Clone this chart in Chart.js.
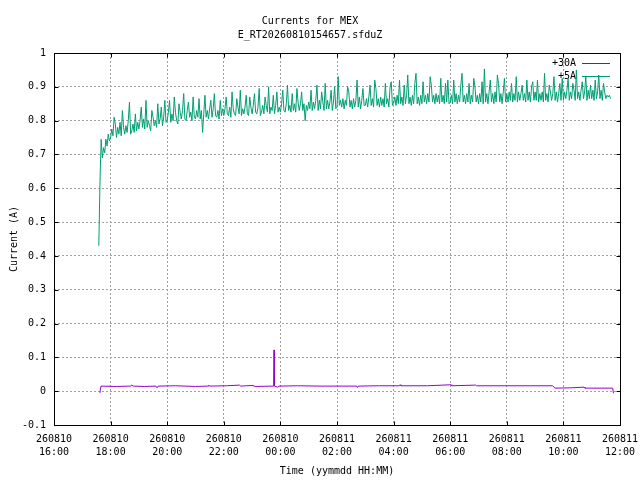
<!DOCTYPE html>
<html lang="en">
<head>
<meta charset="UTF-8">
<title>Currents for MEX</title>
<script src="https://cdn.jsdelivr.net/npm/chart.js"></script>
<style>
  html, body { margin: 0; padding: 0; background: #fff; }
  canvas { display: block; }
</style>
</head>
<body>
<canvas id="currents" width="640" height="480"></canvas>
<script>
// x axis runs in hours counted from 260810 00:00
const xTickDates = ['260810', '260810', '260810', '260810', '260810', '260811',
                    '260811', '260811', '260811', '260811', '260811'];
const xTickTimes = ['16:00', '18:00', '20:00', '22:00', '00:00', '02:00',
                    '04:00', '06:00', '08:00', '10:00', '12:00'];
const yTickLabels = ['-0.1', '0', '0.1', '0.2', '0.3', '0.4', '0.5', '0.6', '0.7', '0.8', '0.9', '1'];

// +5A: one sample every 2.5 minutes starting 17:35, one row per hour
const fiveAStart = 17 + 35 / 60;
const fiveAStepMin = 2.5;
const fiveAValues = [
  0.43, 0.62, 0.745, 0.69, 0.72, 0.705, 0.745, 0.725, 0.76, 0.74,
  0.75, 0.775, 0.755, 0.81, 0.79, 0.75, 0.78, 0.76, 0.795, 0.755, 0.83, 0.78, 0.76, 0.785, 0.765, 0.80, 0.855, 0.76, 0.77, 0.79, 0.765, 0.82, 0.77, 0.795,
  0.775, 0.80, 0.84, 0.78, 0.805, 0.775, 0.86, 0.78, 0.80, 0.785, 0.77, 0.83, 0.81, 0.785, 0.80, 0.78, 0.85, 0.79, 0.805, 0.84, 0.785, 0.81, 0.86, 0.795,
  0.80, 0.825, 0.86, 0.795, 0.82, 0.80, 0.87, 0.825, 0.80, 0.79, 0.85, 0.825, 0.805, 0.83, 0.88, 0.805, 0.80, 0.83, 0.855, 0.81, 0.825, 0.80, 0.87, 0.81,
  0.805, 0.83, 0.81, 0.865, 0.805, 0.83, 0.765, 0.82, 0.875, 0.81, 0.83, 0.805, 0.835, 0.86, 0.81, 0.835, 0.88, 0.815, 0.81, 0.83, 0.805, 0.86, 0.815, 0.835,
  0.815, 0.835, 0.87, 0.82, 0.815, 0.84, 0.81, 0.885, 0.835, 0.82, 0.815, 0.865, 0.84, 0.82, 0.89, 0.815, 0.835, 0.82, 0.84, 0.875, 0.82, 0.815, 0.87, 0.84,
  0.82, 0.845, 0.88, 0.825, 0.82, 0.84, 0.895, 0.815, 0.825, 0.845, 0.82, 0.87, 0.845, 0.825, 0.90, 0.82, 0.84, 0.83, 0.875, 0.82, 0.845, 0.885, 0.825, 0.84,
  0.825, 0.85, 0.89, 0.83, 0.825, 0.85, 0.905, 0.83, 0.845, 0.825, 0.88, 0.83, 0.85, 0.825, 0.895, 0.855, 0.83, 0.85, 0.885, 0.83, 0.85, 0.80, 0.845, 0.83,
  0.855, 0.835, 0.89, 0.83, 0.855, 0.835, 0.86, 0.905, 0.83, 0.86, 0.835, 0.885, 0.855, 0.83, 0.91, 0.835, 0.86, 0.835, 0.855, 0.89, 0.83, 0.855, 0.90, 0.835,
  0.84, 0.93, 0.845, 0.86, 0.84, 0.865, 0.835, 0.86, 0.845, 0.90, 0.885, 0.84, 0.86, 0.835, 0.865, 0.84, 0.86, 0.92, 0.84, 0.87, 0.835, 0.86, 0.895, 0.845,
  0.845, 0.865, 0.84, 0.87, 0.905, 0.845, 0.865, 0.84, 0.92, 0.895, 0.845, 0.865, 0.84, 0.87, 0.845, 0.865, 0.84, 0.91, 0.85, 0.865, 0.84, 0.90, 0.915, 0.845,
  0.85, 0.87, 0.845, 0.875, 0.85, 0.92, 0.85, 0.87, 0.845, 0.905, 0.85, 0.875, 0.935, 0.85, 0.87, 0.845, 0.875, 0.85, 0.91, 0.94, 0.85, 0.87, 0.845, 0.875,
  0.85, 0.915, 0.855, 0.875, 0.85, 0.88, 0.855, 0.93, 0.905, 0.855, 0.875, 0.85, 0.88, 0.855, 0.875, 0.85, 0.925, 0.855, 0.875, 0.85, 0.91, 0.855, 0.92, 0.85,
  0.855, 0.875, 0.85, 0.92, 0.855, 0.88, 0.85, 0.875, 0.855, 0.905, 0.94, 0.855, 0.875, 0.85, 0.88, 0.855, 0.91, 0.85, 0.875, 0.855, 0.925, 0.90, 0.855, 0.875,
  0.85, 0.88, 0.855, 0.915, 0.85, 0.953, 0.855, 0.88, 0.85, 0.885, 0.92, 0.855, 0.88, 0.85, 0.885, 0.855, 0.935, 0.91, 0.855, 0.88, 0.85, 0.885, 0.925, 0.855,
  0.88, 0.855, 0.885, 0.86, 0.91, 0.855, 0.88, 0.86, 0.93, 0.855, 0.885, 0.86, 0.88, 0.905, 0.86, 0.88, 0.855, 0.92, 0.86, 0.885, 0.855, 0.90, 0.915, 0.86,
  0.885, 0.86, 0.92, 0.855, 0.88, 0.86, 0.885, 0.855, 0.94, 0.86, 0.88, 0.855, 0.905, 0.885, 0.86, 0.88, 0.93, 0.86, 0.885, 0.855, 0.88, 0.91, 0.86, 0.925,
  0.86, 0.885, 0.865, 0.89, 0.925, 0.86, 0.885, 0.865, 0.91, 0.89, 0.86, 0.95, 0.865, 0.885, 0.86, 0.89, 0.915, 0.865, 0.885, 0.93, 0.86, 0.89, 0.865, 0.905,
  0.865, 0.89, 0.86, 0.92, 0.865, 0.885, 0.935, 0.865, 0.89, 0.86, 0.91, 0.885, 0.865, 0.875, 0.87, 0.875, 0.865
];

// +30A: flat, so only the sample times where something happens
const thirtyATimes = [
  17.62, 17.66, 18.20, 18.70, 18.75, 18.80, 19.20, 19.60, 19.64, 19.68,
  20.30, 21.00, 21.45, 21.47, 21.50, 22.10, 22.55, 22.60, 23.03, 23.10,
  23.76, 23.775, 23.79, 23.90, 23.95, 24.60, 25.40, 26.70, 26.72, 26.76,
  27.50, 28.20, 28.23, 28.26, 29.20, 30.03, 30.06, 30.90, 30.93, 32.00,
  33.00, 33.62, 33.70, 34.30, 34.73, 34.76, 35.40, 35.74, 35.77
];
const thirtyAValues = [
  -0.005, 0.015, 0.014, 0.015, 0.018, 0.015, 0.014, 0.015, 0.010, 0.015,
  0.016, 0.014, 0.015, 0.018, 0.015, 0.016, 0.018, 0.015, 0.017, 0.014,
  0.015, 0.122, 0.015, 0.012, 0.015, 0.016, 0.015, 0.015, 0.011, 0.015,
  0.016, 0.016, 0.019, 0.016, 0.016, 0.019, 0.016, 0.018, 0.016, 0.016,
  0.016, 0.016, 0.009, 0.010, 0.012, 0.009, 0.009, 0.009, -0.006
];

const monoFont = '"DejaVu Sans Mono", "Liberation Mono", monospace';
Chart.defaults.font.family = monoFont;
Chart.defaults.font.size = 10;
Chart.defaults.color = '#000';

// gnuplot style key, drawn before the data so the lines go over it
const keyPlugin = {
  id: 'key',
  beforeDatasetsDraw(chart) {
    const { ctx, chartArea } = chart;
    ctx.save();
    ctx.font = '10px ' + monoFont;
    ctx.textAlign = 'right';
    ctx.textBaseline = 'middle';
    chart.data.datasets.forEach((ds, i) => {
      const y = Math.round(chartArea.top + 10 + i * 13) + 0.5;
      ctx.fillStyle = '#000';
      ctx.fillText(ds.label, chartArea.right - 44, y);
      ctx.strokeStyle = ds.borderColor;
      ctx.lineWidth = 1;
      ctx.beginPath();
      ctx.moveTo(chartArea.right - 38, y);
      ctx.lineTo(chartArea.right - 10, y);
      ctx.stroke();
    });
    ctx.restore();
  }
};

// black frame round the plot with small inward ticks
const framePlugin = {
  id: 'frame',
  afterDatasetsDraw(chart) {
    const { ctx, chartArea: a, scales } = chart;
    const L = Math.round(a.left) + 0.5, R = Math.round(a.right) + 0.5;
    const T = Math.round(a.top) + 0.5, B = Math.round(a.bottom) + 0.5;
    ctx.save();
    ctx.strokeStyle = '#000';
    ctx.lineWidth = 1;
    ctx.beginPath();
    scales.y.ticks.forEach(t => {
      const y = Math.round(scales.y.getPixelForValue(t.value)) + 0.5;
      ctx.moveTo(L, y); ctx.lineTo(L + 4, y);
      ctx.moveTo(R, y); ctx.lineTo(R - 4, y);
    });
    scales.x.ticks.forEach(t => {
      const x = Math.round(scales.x.getPixelForValue(t.value)) + 0.5;
      ctx.moveTo(x, B); ctx.lineTo(x, B - 4);
      ctx.moveTo(x, T); ctx.lineTo(x, T + 4);
    });
    ctx.rect(L, T, R - L, B - T);
    ctx.stroke();
    ctx.restore();
  }
};

const gridStyle = {
  color: '#a0a0a0',
  lineWidth: 1,
  drawTicks: false,
  tickLength: 0
};
const dashedEdge = { display: false, dash: [2, 2] };

new Chart(document.getElementById('currents'), {
  type: 'line',
  data: {
    datasets: [
      {
        label: '+30A',
        data: thirtyATimes.map((t, i) => ({ x: t, y: thirtyAValues[i] })),
        borderColor: '#9400d3',
        borderWidth: 1,
        pointRadius: 0,
        tension: 0
      },
      {
        label: '+5A',
        data: fiveAValues.map((v, i) => ({ x: fiveAStart + i * fiveAStepMin / 60, y: v })),
        borderColor: '#009e73',
        borderWidth: 1,
        pointRadius: 0,
        tension: 0
      }
    ]
  },
  options: {
    responsive: false,
    animation: false,
    devicePixelRatio: 1,
    layout: { padding: { left: 0, right: 20, top: 0, bottom: 0 } },
    plugins: {
      legend: { display: false },
      tooltip: { enabled: false },
      title: {
        display: true,
        text: ['Currents for MEX', 'E_RT20260810154657.sfduZ'],
        color: '#000',
        font: { family: monoFont, size: 10, weight: 'normal', lineHeight: 1.4 },
        padding: { top: 14, bottom: 11 }
      }
    },
    scales: {
      x: {
        type: 'linear',
        min: 16,
        max: 36,
        border: dashedEdge,
        grid: gridStyle,
        ticks: {
          stepSize: 2,
          autoSkip: false,
          maxRotation: 0,
          padding: 8,
          font: { lineHeight: 1.3 },
          callback: (v, i) => [xTickDates[i], xTickTimes[i]]
        },
        title: { display: true, text: 'Time (yymmdd HH:MM)', padding: 3 },
        afterFit: s => { s.height = 55; s.paddingLeft = 0; s.paddingRight = 0; }
      },
      y: {
        min: -0.1,
        max: 1,
        border: dashedEdge,
        grid: gridStyle,
        ticks: {
          stepSize: 0.1,
          padding: 8,
          callback: (v, i) => yTickLabels[i]
        },
        title: { display: true, text: 'Current (A)', padding: 8 },
        afterFit: s => { s.width = 54; }
      }
    }
  },
  plugins: [keyPlugin, framePlugin]
});
</script>
</body>
</html>
